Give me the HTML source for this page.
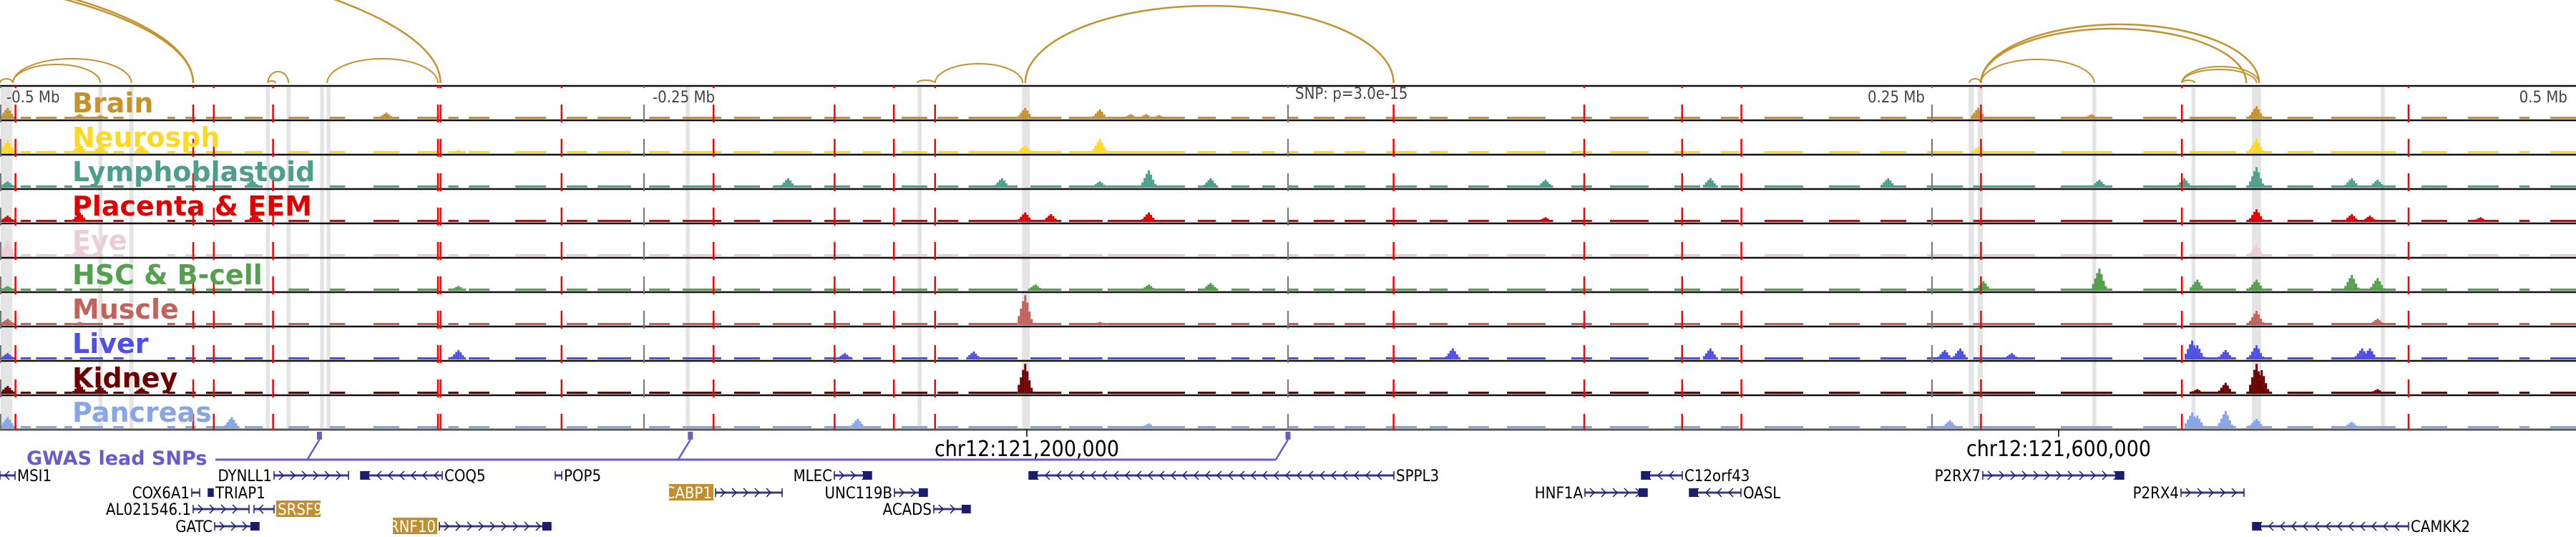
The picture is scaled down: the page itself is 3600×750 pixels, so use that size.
<!DOCTYPE html>
<html><head><meta charset="utf-8">
<style>
html,body{margin:0;padding:0;background:#fff;}
svg{display:block;}
.tl{font-family:"DejaVu Sans","Liberation Sans",sans-serif;font-weight:bold;font-size:38px;}
.ax{font-family:"DejaVu Sans Condensed","DejaVu Sans","Liberation Sans",sans-serif;font-size:22px;fill:#444;}
.gn{font-family:"DejaVu Sans Condensed","DejaVu Sans","Liberation Sans",sans-serif;font-size:22px;fill:#000;}
.co{font-family:"DejaVu Sans Condensed","DejaVu Sans","Liberation Sans",sans-serif;font-size:30px;fill:#000;}
</style></head>
<body>
<svg id="chart" width="3600" height="750" viewBox="0 0 3600 750" xmlns="http://www.w3.org/2000/svg">
<g id="arcs"></g>
<g id="bands"></g>
<g id="tracks"></g>
<g id="vlines"></g>
<g id="labels"></g>
<g id="axis">
<text class="ax" x="9" y="143">-0.5 Mb</text>
<text class="ax" x="912" y="143">-0.25 Mb</text>
<text class="ax" x="1810" y="138">SNP: p=3.0e-15</text>
<text class="ax" x="2690" y="143" text-anchor="end">0.25 Mb</text>
<text class="ax" x="3588" y="143" text-anchor="end">0.5 Mb</text>
</g>
<g id="gwas"></g>
<g id="coords"></g>
<g id="genes"></g>
</svg>
<script>
// ---- data (positions in kb relative to lead SNP) ----
const trackNames = ["Brain","Neurosph","Lymphoblastoid","Placenta & EEM","Eye","HSC & B-cell","Muscle","Liver","Kidney","Pancreas"];
const trackColors = ["#c5922d","#fdd825","#4e9e8c","#e00000","#ebcdd8","#55a04e","#c2625a","#4f4fe6","#6a0000","#88a5e6"];
const brainPeaks = [[-497,.35],[-469,.15],[-461,.12],[-350,.2],[-102,.35],[-73,.3],[-61,.15],[-55,.15],[-50,.12],[268,.35],[312,.15],[376,.4]];
const neuroPeaks = [[-497,.4],[-469,.3],[-461,.25],[-445,.25],[-322,.1],[-102,.25],[-73,.45],[268,.2],[376,.45]];
const lymphoPeaks = [[-497,.2],[-402,.25],[-194,.3],[-111,.3],[-73,.2],[-54,.55],[-30,.3],[100,.25],[164,.3],[233,.3],[315,.25],[348,.3],[376,.65],[413,.3],[423,.25]];
const placentaPeaks = [[-497,.2],[-469,.3],[-401,.25],[-102,.3],[-92,.25],[-54,.3],[100,.15],[376,.4],[413,.25],[420,.2],[463,.15]];
const eyePeaks = [[-497,.5],[-469,.3],[-102,.1],[376,.35]];
const hscPeaks = [[-497,.15],[-322,.15],[-98,.2],[-54,.2],[-30,.25],[270,.3],[315,.7],[353,.35],[376,.35],[413,.5],[423,.4]];
const musclePeaks = [[-497,.2],[-469,.1],[-102,.95],[-73,.1],[376,.45],[423,.2]];
const liverPeaks = [[-497,.2],[-322,.3],[-172,.2],[-122,.25],[64,.35],[164,.35],[255,.3],[261,.35],[281,.2],[351,.6],[353,.45],[364,.3],[376,.45],[417,.35],[420,.35]];
const kidneyPeaks = [[-497,.25],[-469,.3],[-461,.25],[-445,.2],[-102,.95],[353,.15],[364,.35],[376,.95],[378,.75],[423,.15]];
const pancreasPeaks = [[-497,.35],[-410,.35],[-167,.3],[-54,.15],[257,.25],[351,.5],[353,.4],[364,.55],[376,.3],[413,.2]];
const allPeaks = [brainPeaks,neuroPeaks,lymphoPeaks,placentaPeaks,eyePeaks,hscPeaks,musclePeaks,liverPeaks,kidneyPeaks,pancreasPeaks];
const coverage = [[-500,-495],[-492,-488],[-486,-478],[-475,-472],[-469,-460],[-456,-452],[-435,-432],[-428,-424],[-420,-410],[-405,-398],[-388,-380],[-372,-366],[-355,-345],[-338,-330],[-326,-322],[-318,-310],[-300,-288],[-280,-272],[-268,-255],[-248,-240],[-235,-220],[-215,-205],[-200,-185],[-180,-170],[-165,-158],[-150,-140],[-136,-128],[-124,-105],[-100,-88],[-85,-72],[-70,-40],[-35,-28],[-22,-15],[-10,-5],[0,4],[10,18],[22,30],[38,50],[55,62],[70,78],[85,100],[110,118],[125,140],[150,160],[168,175],[185,200],[210,222],[230,240],[248,262],[266,290],[300,320],[332,345],[350,368],[372,382],[388,398],[405,430],[440,450],[458,470],[478,482],[490,500]];
const redLines = [-494,-425,-417,-394,-330,-329,-282,-223,-176,-153,-137,41,115,153,176,269,347,435];
const snpLines = [-500,-250,0,250];
const grayBands = [[-499.5,-495.5],[-461.5,-460.5],[-449.5,-448.5],[-396.5,-395.5],[-388.5,-387.5],[-375.5,-374.5],[-373,-372],[-233.5,-232.5],[-143.5,-142.5],[-103,-100.5],[264.5,266],[268,269.5],[312.5,313.5],[351,352],[374.5,377.5],[424.5,425.5]];
// arcs: [startKb, endKb, apexY]
const arcs = [[-500,-495,110],[-495,-449,82],[-495,-461,90],[-778,-425,-52],[-764,-425,-55],[-396,-388,100],[-396,-393,113],[-373,-330,82],[-917,-329,-113],[-144,-137,112],[-137,-103,89],[-102,41,8],[264.5,269,110],[269,377,34],[269,372,40],[269,313,83],[347,377,93],[347,376,97],[347,352,112]];
const gwasSnps = [-376,-232,0];

const X = kb => (kb + 500) * 3.6;
const NS = "http://www.w3.org/2000/svg";
function mk(tag, attrs, parent){ const e=document.createElementNS(NS,tag); for(const k in attrs) e.setAttribute(k,attrs[k]); parent.appendChild(e); return e; }
const TOP=120, TH=48, INNER=44;

// arcs
const gArcs=document.getElementById('arcs');
arcs.forEach((a,i)=>{
  const x1=X(a[0]), x2=X(a[1]), base=116;
  const rx=(x2-x1)/2, ry=base-a[2];
  const p=mk('path',{d:`M${x1},${base} A${rx},${ry} 0 0 1 ${x2},${base}`,fill:'none',stroke:'#c5922d','stroke-width':(ry>60?2.5:2)},gArcs);
  
  
});

// bands
const gBands=document.getElementById('bands');
grayBands.forEach(b=>{
  const r=mk('rect',{x:X(b[0])-1,y:TOP+2,width:X(b[1])-X(b[0])+2,height:480-4,fill:'#e4e4e4'},gBands);
  
  
});

// tracks
const gT=document.getElementById('tracks');
trackNames.forEach((nm,i)=>{
  const top=TOP+i*TH, base=top+TH-2, col=trackColors[i];
  const g=mk('g',{},gT);
  
  
  coverage.forEach(c=>{
    const r=mk('rect',{x:X(c[0]),y:base-3,width:X(c[1])-X(c[0]),height:3,fill:col},g);
    
    
  });
  allPeaks[i].forEach(p=>{
    const cx=X(p[0]), h=p[1]*INNER;
    [[-9,.3],[-6,.55],[-3,.8],[0,1],[3,.75],[6,.45],[9,.2]].forEach(s=>{
      const hh=Math.max(3,h*s[1]);
      const r=mk('rect',{x:cx+s[0]-1.5,y:base-hh,width:3,height:hh,fill:col},g);
      
      
    });
  });
  const ln=mk('line',{x1:0,x2:3600,y1:top,y2:top,stroke:'#111','stroke-width':2.5},gT);
  
  
  const t=mk('text',{x:101,y:top+37,class:'tl',fill:col},document.getElementById('labels'));
  t.textContent=nm;
  
  
});
const bl=mk('line',{x1:0,x2:3600,y1:600,y2:600,stroke:'#555','stroke-width':3},gT);



// vertical lines
const gV=document.getElementById('vlines');
snpLines.forEach(k=>{
  const x=Math.max(1,X(k));
  const l=mk('line',{x1:x,x2:x,y1:120,y2:600,stroke:'#777','stroke-width':2,'stroke-dasharray':'25 23','stroke-dashoffset':22},gV);
  
  
});
redLines.forEach(k=>{
  const x=X(k);
  const l=mk('line',{x1:x,x2:x,y1:120,y2:600,stroke:'#f00','stroke-width':2.5,'stroke-dasharray':'25 23','stroke-dashoffset':22},gV);
  
  
});

// gwas
const gG=document.getElementById('gwas');
const gc='#6a5acd';
let t=mk('text',{x:37,y:649,fill:gc,'font-family':'DejaVu Sans, Liberation Sans, sans-serif','font-weight':'bold','font-size':'27px'},gG);
t.textContent='GWAS lead SNPs';


const lastX=X(gwasSnps[gwasSnps.length-1]);
let hl=mk('line',{x1:301,x2:lastX-17,y1:642,y2:642,stroke:gc,'stroke-width':3},gG);


gwasSnps.forEach(k=>{
  const x=X(k);
  const r=mk('rect',{x:x-3.5,y:603,width:7,height:11,fill:gc},gG);
  
  
  const l=mk('line',{x1:x,y1:614,x2:x-17,y2:642,stroke:gc,'stroke-width':2.5},gG);
  
  
});

// coordinates
const gC=document.getElementById('coords');
[[1435,'chr12:121,200,000'],[2877,'chr12:121,600,000']].forEach(c=>{
  const l=mk('line',{x1:c[0],x2:c[0],y1:600,y2:610,stroke:'#000','stroke-width':1.5},gC);
  
  
  const tx=mk('text',{x:c[0],y:637,class:'co','text-anchor':'middle'},gC);
  tx.textContent=c[1];
  
  
});

// genes: [name, x1, x2, row, strand, labelSide, blockSide, highlight]
const genes=[
 ['MSI1',0,21,0,-1,'R',null,false],
 ['DYNLL1',383,487,0,1,'L',null,false],
 ['COQ5',504,618,0,-1,'R','L',false],
 ['COX6A1',268,279,1,1,'L',null,false],
 ['TRIAP1',291,298,1,-1,'R','L',false],
 ['AL021546.1',270,348,2,1,'L',null,false],
 ['SRSF9',355,383,2,-1,'R',null,true],
 ['GATC',300,362,3,1,'L','R',false],
 ['RNF10',614,770,3,1,'L','R',true],
 ['POP5',776,785,0,-1,'R',null,false],
 ['MLEC',1166,1218,0,1,'L','R',false],
 ['SPPL3',1438,1948,0,-1,'R','L',false],
 ['CABP1',1000,1093,1,1,'L',null,true],
 ['UNC119B',1250,1296,1,1,'L','R',false],
 ['ACADS',1305,1356,2,1,'L','R',false],
 ['C12orf43',2294,2351,0,-1,'R','L',false],
 ['HNF1A',2215,2302,1,1,'L','R',false],
 ['OASL',2361,2433,1,-1,'R','L',false],
 ['P2RX7',2771,2968,0,1,'L','R',false],
 ['P2RX4',3048,3136,1,1,'L',null,false],
 ['CAMKK2',3148,3366,3,-1,'R','L',false]
];
const rows=[664,688,711,735];
const gGe=document.getElementById('genes');
const nv='#1c1c70';
genes.forEach(gd=>{
  const [nm,x1,x2,row,str,side,blk,hi]=gd, y=rows[row];
  const g=mk('g',{},gGe);
  
  
  mk('line',{x1:x1,x2:x2,y1:y,y2:y,stroke:'#8080c0','stroke-width':3.5},g);
  mk('line',{x1:x1,x2:x2,y1:y,y2:y,stroke:nv,'stroke-width':1.5},g);
  mk('line',{x1:x1,x2:x1,y1:y-6,y2:y+6,stroke:nv,'stroke-width':1.5},g);
  mk('line',{x1:x2,x2:x2,y1:y-6,y2:y+6,stroke:nv,'stroke-width':1.5},g);
  for(let x=x1+10;x<x2-4;x+=16){
    const d=str>0?`M${x-3},${y-6} L${x+3},${y} L${x-3},${y+6}`:`M${x+3},${y-6} L${x-3},${y} L${x+3},${y+6}`;
    mk('path',{d:d,fill:'none',stroke:nv,'stroke-width':1.5},g);
  }
  if(blk){ const bx=blk==='L'?x1:x2-12; mk('rect',{x:bx,y:y-6,width:Math.min(12,x2-x1),height:12,fill:nv},g); }
  const tw=nm.length*11.6;
  let lx, anchor;
  if(side==='L'){ lx=x1-3; anchor='end'; } else { lx=x2+3; anchor='start'; }
  if(hi){
    const bx=anchor==='end'?lx-tw-4:lx;
    mk('rect',{x:bx,y:y-12,width:tw+4,height:23,fill:'#c18f2e'},g);
    const tx=mk('text',{x:anchor==='end'?lx-2:lx+2,y:y+8,class:'gn','text-anchor':anchor,fill:'#fff',style:'fill:#fff'},g);
    tx.textContent=nm;
    
    
  } else {
    const tx=mk('text',{x:lx,y:y+8,class:'gn','text-anchor':anchor},g);
    tx.textContent=nm;
    
    
  }
});
</script>
</body></html>
